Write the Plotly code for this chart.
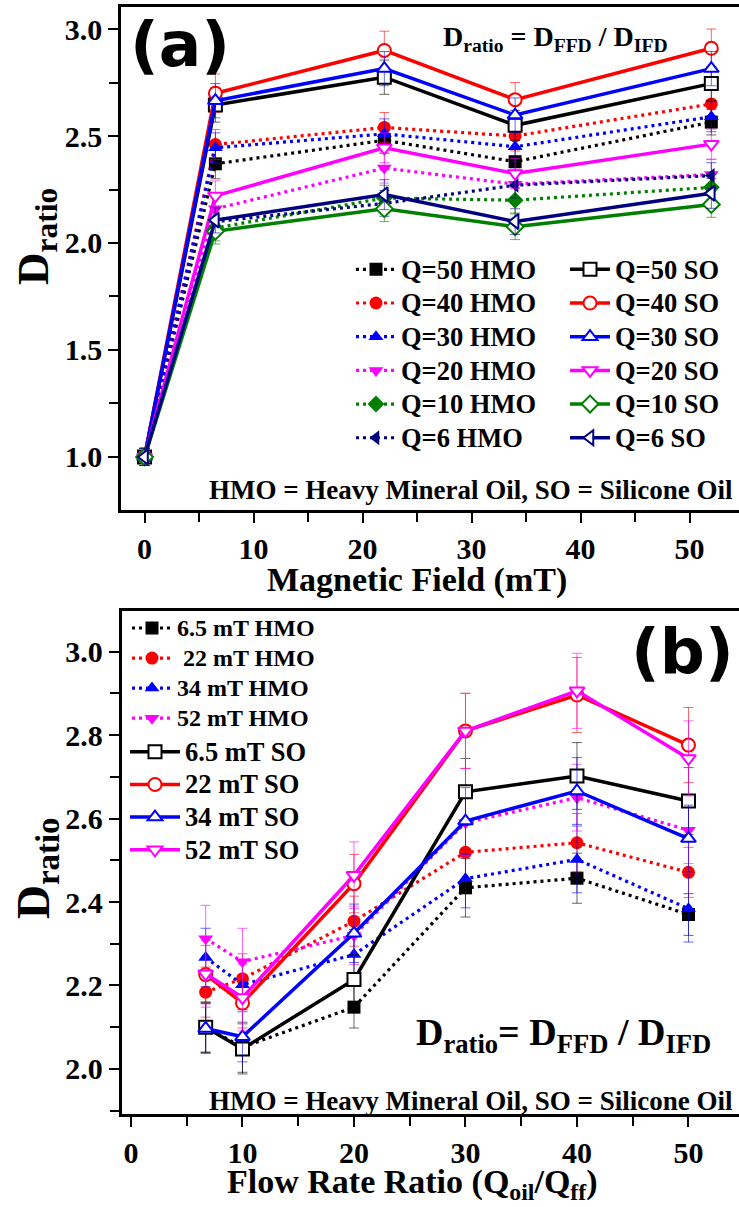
import plotly.graph_objects as go

# ---------------- data ----------------
# Panel (a): D_ratio versus magnetic field for each flow-rate ratio Q
field_mT = [0, 6.5, 22, 34, 52]

hmo_q_labels = ["Q=50 HMO", "Q=40 HMO", "Q=30 HMO", "Q=20 HMO", "Q=10 HMO", "Q=6 HMO"]
so_q_labels = ["Q=50 SO", "Q=40 SO", "Q=30 SO", "Q=20 SO", "Q=10 SO", "Q=6 SO"]

hmo_q50 = [1.0, 2.37, 2.48, 2.38, 2.565]
hmo_q40 = [1.0, 2.46, 2.54, 2.50, 2.65]
hmo_q30 = [1.0, 2.445, 2.51, 2.45, 2.59]
hmo_q20 = [1.0, 2.16, 2.35, 2.275, 2.32]
hmo_q10 = [1.0, 2.07, 2.21, 2.20, 2.26]
hmo_q6 = [1.0, 2.10, 2.185, 2.27, 2.315]

so_q50 = [1.0, 2.645, 2.775, 2.55, 2.745]
so_q40 = [1.0, 2.70, 2.90, 2.67, 2.91]
so_q30 = [1.0, 2.665, 2.815, 2.598, 2.815]
so_q20 = [1.0, 2.22, 2.445, 2.325, 2.462]
so_q10 = [1.0, 2.055, 2.16, 2.076, 2.18]
so_q6 = [1.0, 2.107, 2.226, 2.10, 2.232]

err_hmo_q50 = [0.04, 0.07, 0.06, 0.06, 0.06]
err_hmo_q40 = [0.04, 0.07, 0.07, 0.07, 0.07]
err_hmo_q30 = [0.04, 0.07, 0.07, 0.07, 0.07]
err_hmo_q20 = [0.04, 0.07, 0.07, 0.07, 0.07]
err_hmo_q10 = [0.04, 0.06, 0.06, 0.06, 0.06]
err_hmo_q6 = [0.04, 0.06, 0.06, 0.06, 0.06]
err_so_q50 = [0.04, 0.08, 0.08, 0.07, 0.08]
err_so_q40 = [0.04, 0.09, 0.09, 0.08, 0.09]
err_so_q30 = [0.04, 0.08, 0.08, 0.08, 0.08]
err_so_q20 = [0.04, 0.07, 0.07, 0.07, 0.07]
err_so_q10 = [0.04, 0.06, 0.06, 0.06, 0.06]
err_so_q6 = [0.04, 0.06, 0.07, 0.06, 0.07]

# Panel (b): D_ratio versus flow rate ratio for each field strength
flow_ratio = [6.7, 10, 20, 30, 40, 50]

hmo_b_labels = ["6.5 mT HMO", "\u00a022 mT HMO", "34 mT HMO", "52 mT HMO"]
so_b_labels = ["6.5 mT SO", "22 mT SO", "34 mT SO", "52 mT SO"]

hmo_6p5 = [2.10, 2.052, 2.148, 2.434, 2.457, 2.37]
hmo_22 = [2.184, 2.216, 2.354, 2.519, 2.542, 2.471]
hmo_34 = [2.267, 2.202, 2.274, 2.456, 2.502, 2.384]
hmo_52 = [2.312, 2.257, 2.32, 2.59, 2.65, 2.572]
so_6p5 = [2.10, 2.048, 2.214, 2.664, 2.702, 2.642]
so_22 = [2.226, 2.158, 2.444, 2.81, 2.896, 2.776]
so_34 = [2.097, 2.077, 2.325, 2.594, 2.666, 2.552]
so_52 = [2.228, 2.171, 2.464, 2.81, 2.906, 2.744]

err_hmo_6p5 = [0.06, 0.06, 0.05, 0.07, 0.06, 0.05]
err_hmo_22 = [0.06, 0.06, 0.06, 0.07, 0.07, 0.06]
err_hmo_34 = [0.07, 0.06, 0.06, 0.07, 0.08, 0.08]
err_hmo_52 = [0.08, 0.08, 0.07, 0.08, 0.08, 0.08]
err_so_6p5 = [0.06, 0.06, 0.06, 0.08, 0.08, 0.08]
err_so_22 = [0.07, 0.06, 0.07, 0.09, 0.09, 0.09]
err_so_34 = [0.06, 0.06, 0.07, 0.08, 0.08, 0.08]
err_so_52 = [0.08, 0.08, 0.08, 0.09, 0.09, 0.09]

# ---------------- styling ----------------
W, H = 739, 1207
SERIF = "Liberation Serif"
SANS = "DejaVu Sans"

BLACK, RED, BLUE, MAGENTA, GREEN, NAVY = "#000000", "#FF0000", "#0000FF", "#FF00FF", "#008000", "#000080"


def px_x(p):
    return p / W


def px_y(p):
    return 1 - p / H


def rgba(hex_color, a):
    h = hex_color.lstrip("#")
    r, g, b = int(h[0:2], 16), int(h[2:4], 16), int(h[4:6], 16)
    return f"rgba({r},{g},{b},{a})"


def sized(text, size):
    # legend text drawn at its own size; the legend font size sets the row pitch
    return f'<span style="font-size:{size}px">{text}</span>'


def add_series(fig, x, y, err, name, color, symbol, filled, xa, ya, legend):
    if filled:
        marker = dict(symbol=symbol, size=13, color=color, line=dict(width=0, color=color))
        line = dict(color=color, width=3.2, dash="3px,4px")
    else:
        marker = dict(symbol=symbol, size=13, color="white", line=dict(width=2, color=color))
        line = dict(color=color, width=3.5)
    fig.add_trace(go.Scatter(
        x=x, y=y, name=name, mode="lines+markers",
        line=line, marker=marker,
        error_y=dict(type="data", array=err, visible=True, thickness=1, width=5,
                     color=rgba(color, 0.6)),
        xaxis=xa, yaxis=ya, legend=legend,
    ))


fig = go.Figure()

# panel (a) series: HMO column in legend, SO column in legend2
a_hmo = [hmo_q50, hmo_q40, hmo_q30, hmo_q20, hmo_q10, hmo_q6]
a_hmo_err = [err_hmo_q50, err_hmo_q40, err_hmo_q30, err_hmo_q20, err_hmo_q10, err_hmo_q6]
a_so = [so_q50, so_q40, so_q30, so_q20, so_q10, so_q6]
a_so_err = [err_so_q50, err_so_q40, err_so_q30, err_so_q20, err_so_q10, err_so_q6]
a_colors = [BLACK, RED, BLUE, MAGENTA, GREEN, NAVY]
a_symbols = ["square", "circle", "triangle-up", "triangle-down", "diamond", "triangle-left"]

for ys, es, nm, c, s in zip(a_hmo, a_hmo_err, hmo_q_labels, a_colors, a_symbols):
    add_series(fig, field_mT, ys, es, sized(nm, 26.5), c, s, True, "x", "y", "legend")
for ys, es, nm, c, s in zip(a_so, a_so_err, so_q_labels, a_colors, a_symbols):
    add_series(fig, field_mT, ys, es, sized(nm, 26.5), c, s, False, "x", "y", "legend2")

# panel (b) series: HMO entries in legend3, SO entries in legend4
b_hmo = [hmo_6p5, hmo_22, hmo_34, hmo_52]
b_hmo_err = [err_hmo_6p5, err_hmo_22, err_hmo_34, err_hmo_52]
b_so = [so_6p5, so_22, so_34, so_52]
b_so_err = [err_so_6p5, err_so_22, err_so_34, err_so_52]
b_colors = [BLACK, RED, BLUE, MAGENTA]
b_symbols = ["square", "circle", "triangle-up", "triangle-down"]

for ys, es, nm, c, s in zip(b_hmo, b_hmo_err, hmo_b_labels, b_colors, b_symbols):
    add_series(fig, flow_ratio, ys, es, sized(nm, 24), c, s, True, "x2", "y2", "legend3")
for ys, es, nm, c, s in zip(b_so, b_so_err, so_b_labels, b_colors, b_symbols):
    add_series(fig, flow_ratio, ys, es, sized(nm, 26.5), c, s, False, "x2", "y2", "legend4")

tick_font = dict(family=SERIF, size=30, color="black", weight="bold")
axis_common = dict(
    showline=True, linecolor="black", linewidth=2.5,
    ticks="outside", ticklen=10, tickwidth=2, tickcolor="black",
    tickfont=tick_font, showgrid=False, zeroline=False,
)
minor_common = dict(ticks="outside", ticklen=9, tickwidth=2, tickcolor="black")


def legend_box(x_px, top_px, pitch_font, itemwidth):
    return dict(x=px_x(x_px), y=px_y(top_px), xanchor="left", yanchor="top",
                bgcolor="rgba(0,0,0,0)", itemwidth=itemwidth, tracegroupgap=0,
                font=dict(family=SERIF, size=pitch_font, color="black", weight="bold"))


fig.update_layout(
    width=W, height=H, autosize=False,
    margin=dict(l=0, r=0, t=0, b=0),
    paper_bgcolor="white", plot_bgcolor="white",
    font=dict(family=SERIF, color="black"),
    xaxis=dict(domain=[px_x(121), 1], range=[-2.16, 54.54], anchor="y", mirror=True,
               tickvals=[0, 10, 20, 30, 40, 50],
               minor=dict(tickvals=[5, 15, 25, 35, 45], **minor_common),
               **axis_common),
    yaxis=dict(domain=[px_y(510), px_y(7)], range=[0.752, 3.103], anchor="x",
               tickvals=[1.0, 1.5, 2.0, 2.5, 3.0], tickformat=".1f",
               minor=dict(tickvals=[1.25, 1.75, 2.25, 2.75], **minor_common),
               **axis_common),
    xaxis2=dict(domain=[px_x(121.6), 1], range=[-0.84, 54.53], anchor="y2", mirror=True,
                tickvals=[0, 10, 20, 30, 40, 50],
                minor=dict(tickvals=[5, 15, 25, 35, 45], **minor_common),
                **axis_common),
    yaxis2=dict(domain=[px_y(1114), px_y(610.7)], range=[1.892, 3.098], anchor="x2",
                tickvals=[2.0, 2.2, 2.4, 2.6, 2.8, 3.0], tickformat=".1f",
                minor=dict(tickvals=[1.9, 2.1, 2.3, 2.5, 2.7, 2.9], **minor_common),
                **axis_common),
    legend=legend_box(351, 247.5, 23.6, 40),
    legend2=legend_box(565, 247.5, 23.6, 40),
    legend3=legend_box(127, 608, 20.8, 40),
    legend4=legend_box(125, 730.5, 22.8, 50),
)


def note(text, cx, cy, size, family=SERIF, angle=0):
    fig.add_annotation(text=text, x=px_x(cx), y=px_y(cy), xref="paper", yref="paper",
                       xanchor="center", yanchor="middle", showarrow=False, textangle=angle,
                       font=dict(family=family, size=size, color="black", weight="bold"))


# panel (a) texts
note("(a)", 180, 44, 63, family=SANS)
note("D<sub>ratio</sub> = D<sub>FFD</sub> / D<sub>IFD</sub>", 555, 38, 28)
note("HMO = Heavy Mineral Oil, SO = Silicone Oil", 471, 490, 27)
note("Magnetic Field (mT)", 417, 580, 34)
note("D<sub>ratio</sub>", 36, 237, 45, angle=-90)

# panel (b) texts
note("(b)", 682, 651, 63, family=SANS)
note("D<sub>ratio</sub>= D<sub>FFD</sub> / D<sub>IFD</sub>", 563, 1035, 38)
note("HMO = Heavy Mineral Oil, SO = Silicone Oil", 471, 1101, 27)
note("Flow Rate Ratio (Q<sub>oil</sub>/Q<sub>ff</sub>)", 412, 1184, 34)
note("D<sub>ratio</sub>", 36, 868, 47, angle=-90)

fig.write_html("out.html")
